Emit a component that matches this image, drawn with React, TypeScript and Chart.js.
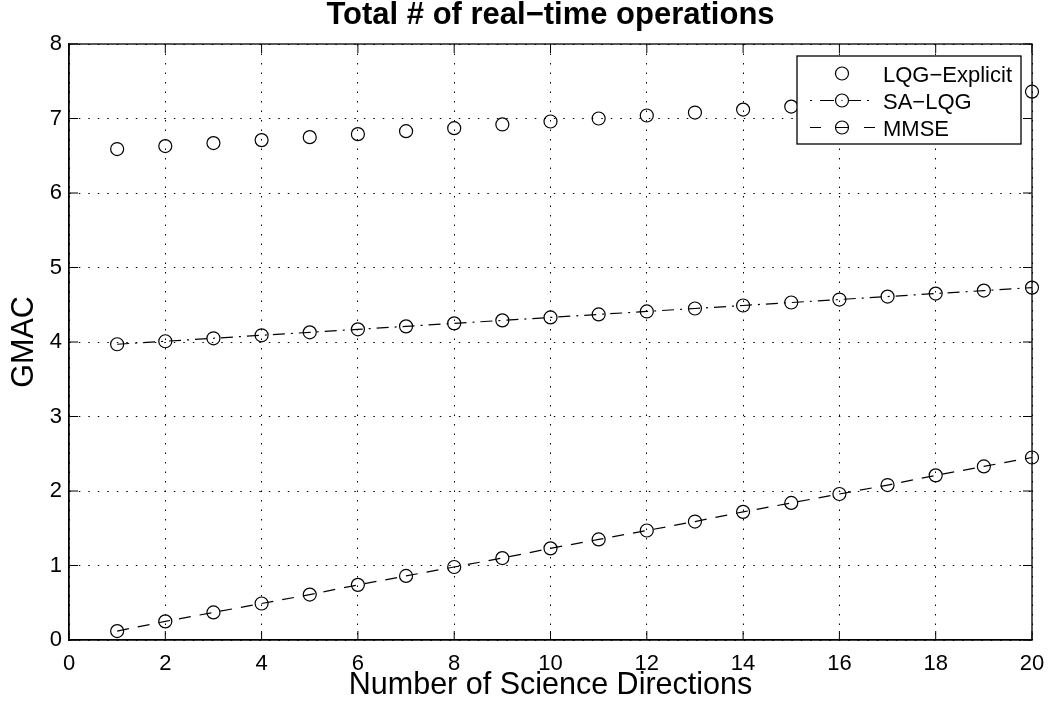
import React, { useEffect, useRef } from "react";
import { Chart, registerables } from "chart.js";

Chart.register(...registerables);

const directions = [1, 2, 3, 4, 5, 6, 7, 8, 9, 10, 11, 12, 13, 14, 15, 16, 17, 18, 19, 20];
const lqgExplicit = [6.59, 6.63, 6.67, 6.71, 6.75, 6.79, 6.83, 6.87, 6.92, 6.96, 7.0, 7.04, 7.08, 7.12, 7.16, 7.2, 7.24, 7.28, 7.32, 7.36];
const saLqg = [3.97, 4.01, 4.05, 4.09, 4.13, 4.17, 4.21, 4.25, 4.29, 4.33, 4.37, 4.41, 4.45, 4.49, 4.53, 4.57, 4.61, 4.65, 4.69, 4.73];
const mmse = [0.12, 0.25, 0.37, 0.49, 0.61, 0.74, 0.86, 0.98, 1.1, 1.23, 1.35, 1.47, 1.59, 1.72, 1.84, 1.96, 2.08, 2.21, 2.33, 2.45];

const seriesNames = ["LQG\u2212Explicit", "SA\u2212LQG", "MMSE"];
const xTicks = [0, 2, 4, 6, 8, 10, 12, 14, 16, 18, 20];
const yTicks = [0, 1, 2, 3, 4, 5, 6, 7, 8];
const titleText = "Total # of real\u2212time operations";
const xTitle = "Number of Science Directions";
const yTitle = "GMAC";

const FONT = '"Liberation Sans", Arial, Helvetica, sans-serif';
const DASH_DOT = [12, 6, 2, 6];
const DASHED = [12, 9];

export default function App() {
  const ref = useRef<HTMLCanvasElement | null>(null);

  useEffect(() => {
    const canvas = ref.current;
    if (!canvas) return;

    const decorPlugin = {
      id: "matlabDecor",
      afterDraw(chart: any) {
        const ctx = chart.ctx as CanvasRenderingContext2D;
        const area = chart.chartArea;
        const xs = chart.scales.x;
        const ys = chart.scales.y;
        ctx.save();
        ctx.strokeStyle = "#000";
        ctx.lineWidth = 1.3;
        ctx.setLineDash([]);
        ctx.strokeRect(area.left, area.top, area.right - area.left, area.bottom - area.top);
        ctx.lineWidth = 1;
        const tl = 9;
        ctx.beginPath();
        xTicks.forEach((v) => {
          const px = xs.getPixelForValue(v);
          ctx.moveTo(px, area.bottom);
          ctx.lineTo(px, area.bottom - tl);
          ctx.moveTo(px, area.top);
          ctx.lineTo(px, area.top + tl);
        });
        yTicks.forEach((v) => {
          const py = ys.getPixelForValue(v);
          ctx.moveTo(area.left, py);
          ctx.lineTo(area.left + tl, py);
          ctx.moveTo(area.right, py);
          ctx.lineTo(area.right - tl, py);
        });
        ctx.stroke();

        // legend
        const lx0 = 797, ly0 = 56, lx1 = 1021, ly1 = 144;
        ctx.fillStyle = "#fff";
        ctx.fillRect(lx0, ly0, lx1 - lx0, ly1 - ly0);
        ctx.lineWidth = 1.3;
        ctx.strokeStyle = "#000";
        ctx.strokeRect(lx0, ly0, lx1 - lx0, ly1 - ly0);
        const rows = [73.5, 100.5, 127.5];
        const segs: number[][][] = [
          [],
          [[810, 812], [820, 834], [848, 861], [867, 869]],
          [[810, 821], [836, 848], [864, 875]],
        ];
        rows.forEach((ry, i) => {
          ctx.lineWidth = 1.2;
          ctx.beginPath();
          segs[i].forEach(([a, b]) => {
            ctx.moveTo(a, ry);
            ctx.lineTo(b, ry);
          });
          ctx.stroke();
          ctx.beginPath();
          ctx.arc(842, ry, 6.5, 0, Math.PI * 2);
          ctx.stroke();
          if (i === 1) {
            ctx.fillStyle = "#000";
            ctx.fillRect(841.5, ry - 0.5, 1, 1);
          }
          ctx.fillStyle = "#000";
          ctx.font = `22px ${FONT}`;
          ctx.textAlign = "left";
          ctx.textBaseline = "alphabetic";
          ctx.fillText(seriesNames[i], 883, ry + 8);
        });

        // titles
        const cx = (area.left + area.right) / 2;
        ctx.fillStyle = "#000";
        ctx.textAlign = "center";
        ctx.textBaseline = "alphabetic";
        ctx.font = `bold 31px ${FONT}`;
        ctx.fillText(titleText, cx, 24);
        ctx.font = `30.5px ${FONT}`;
        ctx.fillText(xTitle, cx, 694);
        ctx.save();
        ctx.translate(33, (area.top + area.bottom) / 2);
        ctx.rotate(-Math.PI / 2);
        ctx.fillText(yTitle, 0, 0);
        ctx.restore();
        ctx.restore();
      },
    };

    const pointCommon = {
      pointStyle: "circle",
      pointRadius: 6.5,
      pointHoverRadius: 6.5,
      pointBorderWidth: 1.2,
      pointBackgroundColor: "rgba(0,0,0,0)",
      pointBorderColor: "#000",
      borderColor: "#000",
      backgroundColor: "rgba(0,0,0,0)",
      borderWidth: 1.2,
      tension: 0,
      fill: false,
    };

    const chart = new Chart(canvas, {
      type: "line",
      data: {
        datasets: [
          {
            ...pointCommon,
            label: seriesNames[0],
            data: directions.map((x, i) => ({ x, y: lqgExplicit[i] })),
            showLine: false,
          },
          {
            ...pointCommon,
            label: seriesNames[1],
            data: directions.map((x, i) => ({ x, y: saLqg[i] })),
            borderDash: DASH_DOT,
          },
          {
            ...pointCommon,
            label: seriesNames[2],
            data: directions.map((x, i) => ({ x, y: mmse[i] })),
            borderDash: DASHED,
          },
        ],
      } as any,
      options: {
        animation: false,
        responsive: false,
        maintainAspectRatio: false,
        clip: false as any,
        layout: { padding: { top: 44, right: 16, left: 0, bottom: 0 } },
        plugins: {
          legend: { display: false },
          title: { display: false },
          tooltip: { enabled: false },
        },
        events: [],
        scales: {
          x: {
            type: "linear",
            min: 0,
            max: 20,
            afterFit: (s: any) => {
              s.height = 66;
              s.paddingLeft = 0;
              s.paddingRight = 0;
            },
            afterBuildTicks: (s: any) => {
              s.ticks = xTicks.map((v) => ({ value: v }));
            },
            ticks: {
              color: "#000",
              font: { family: FONT, size: 22 },
              padding: 11,
              maxRotation: 0,
              autoSkip: false,
            },
            grid: {
              color: "#000",
              lineWidth: 1,
              drawTicks: false,
              drawOnChartArea: true,
            },
            border: { display: true, color: "#000", width: 1.3, dash: [1.5, 8] },
          },
          y: {
            type: "linear",
            min: 0,
            max: 8,
            afterFit: (s: any) => {
              s.width = 69;
              s.paddingTop = 0;
              s.paddingBottom = 0;
            },
            afterBuildTicks: (s: any) => {
              s.ticks = yTicks.map((v) => ({ value: v }));
            },
            ticks: {
              color: "#000",
              font: { family: FONT, size: 22 },
              padding: 7,
              autoSkip: false,
            },
            grid: {
              color: "#000",
              lineWidth: 1,
              drawTicks: false,
              drawOnChartArea: true,
            },
            border: { display: true, color: "#000", width: 1.3, dash: [1.5, 8] },
          },
        },
      } as any,
      plugins: [decorPlugin],
    });

    return () => {
      chart.destroy();
    };
  }, []);

  return (
    <div style={{ position: "fixed", left: 0, top: 0, width: 1048, height: 706, background: "#fff" }}>
      <canvas ref={ref} width={1048} height={706} style={{ display: "block" }} />
    </div>
  );
}
